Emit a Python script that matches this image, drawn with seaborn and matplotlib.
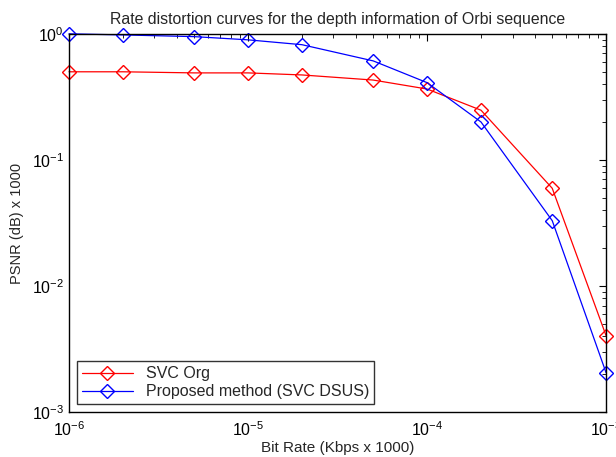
#!/usr/bin/env python3
import matplotlib
matplotlib.use("Agg")
import matplotlib.pyplot as plt
import seaborn as sns
import pandas as pd
from matplotlib.ticker import LogLocator, NullFormatter

# Bit rate (Kbps x 1000) and PSNR (dB x 1000)
bit_rate = [1e-6, 2e-6, 5e-6, 1e-5, 2e-5, 5e-5, 1e-4, 2e-4, 5e-4, 1e-3]
psnr_svc_org = [0.50, 0.50, 0.49, 0.49, 0.472, 0.43, 0.365, 0.248, 0.0596, 0.00403]
psnr_proposed = [1.0, 0.98, 0.95, 0.896, 0.82, 0.61, 0.41, 0.20, 0.033, 0.00205]
series_names = ["SVC Org", "Proposed method (SVC DSUS)"]
series_colors = ["#ff0000", "#0000ff"]

sns.set_theme(style="white")
plt.rcParams["font.family"] = ["Liberation Sans", "DejaVu Sans"]

df = pd.DataFrame({
    "rate": bit_rate * 2,
    "psnr": psnr_svc_org + psnr_proposed,
    "method": [series_names[0]] * len(bit_rate) + [series_names[1]] * len(bit_rate),
})

fig = plt.figure(figsize=(6.16, 4.57), dpi=100)
ax = fig.add_axes([0.112, 0.098, 0.872, 0.828])

for name, color in zip(series_names, series_colors):
    sub = df[df["method"] == name]
    sns.lineplot(data=sub, x="rate", y="psnr", ax=ax, color=color, lw=0.9,
                 marker="D", markersize=7, markerfacecolor="none",
                 markeredgecolor=color, markeredgewidth=1.0, label=name,
                 clip_on=False)

ax.set_xscale("log")
ax.set_yscale("log")
ax.set_xlim(1e-6, 1e-3)
ax.set_ylim(1e-3, 1e0)

ax.xaxis.set_major_locator(LogLocator(base=10, numticks=10))
ax.xaxis.set_minor_locator(LogLocator(base=10, subs=range(2, 10), numticks=20))
ax.yaxis.set_minor_locator(LogLocator(base=10, subs=range(2, 10), numticks=20))
ax.xaxis.set_minor_formatter(NullFormatter())
ax.yaxis.set_minor_formatter(NullFormatter())

ax.tick_params(which="both", direction="in", top=True, right=True, colors="black",
               labelsize=11.5)
ax.tick_params(which="major", length=5, width=0.8)
ax.tick_params(which="minor", length=3, width=0.6)
ax.tick_params(axis="x", pad=6)
for s in ax.spines.values():
    s.set_color("black")
    s.set_linewidth(1.0)

ax.set_xlabel("Bit Rate (Kbps x 1000)", fontsize=11, labelpad=1)
ax.set_ylabel("PSNR (dB) x 1000", fontsize=10.5, labelpad=6)
ax.set_title("Rate distortion curves for the depth information of Orbi sequence",
             fontsize=11.4, pad=7)

leg = ax.legend(loc="lower left", fontsize=11.5, frameon=True, fancybox=False,
                edgecolor="black", handlelength=3.2, borderaxespad=0.5,
                borderpad=0.3, labelspacing=0.2)
leg.get_frame().set_linewidth(1.0)

fig.savefig("out.png", dpi=100)
